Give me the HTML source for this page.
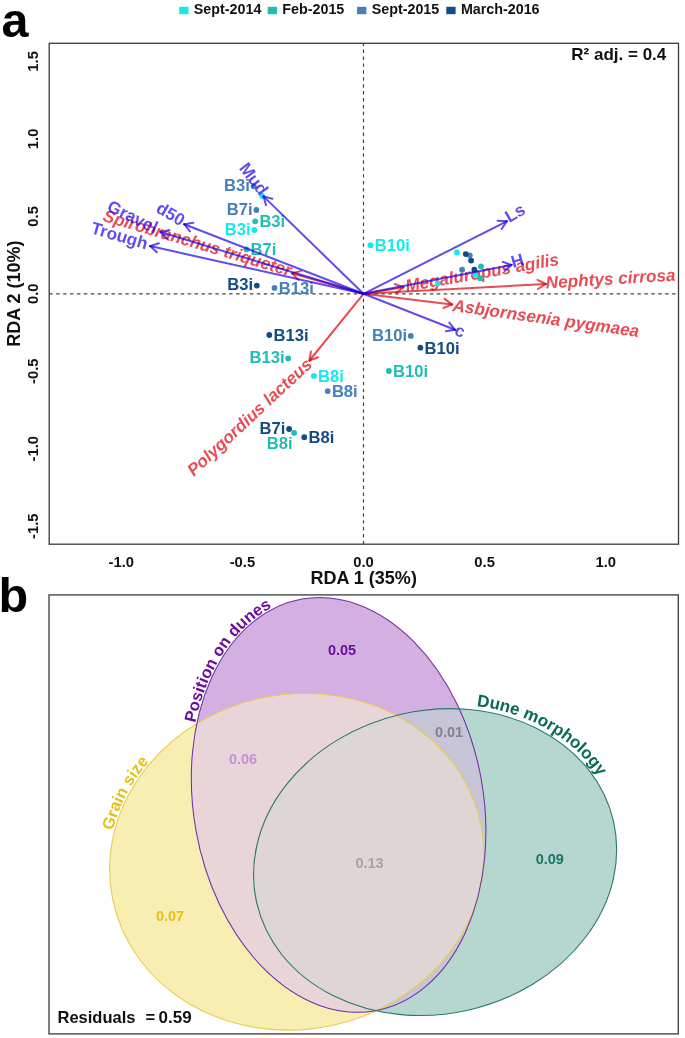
<!DOCTYPE html>
<html><head><meta charset="utf-8"><style>
html,body{margin:0;padding:0;background:#fff;}
svg{display:block;font-family:"Liberation Sans", sans-serif;will-change:transform;}
</style></head><body>
<svg width="685" height="1038" viewBox="0 0 685 1038">
<rect width="685" height="1038" fill="#fff"/>
<rect x="179.2" y="6.8" width="9.3" height="7.4" fill="#14eaec"/>
<text x="193.79999999999998" y="14" font-size="14.3" font-weight="bold" fill="#111">Sept-2014</text>
<rect x="267.7" y="6.8" width="9.3" height="7.4" fill="#20bdb5"/>
<text x="282.3" y="14" font-size="14.3" font-weight="bold" fill="#111">Feb-2015</text>
<rect x="357.1" y="6.8" width="9.3" height="7.4" fill="#4580b8"/>
<text x="371.70000000000005" y="14" font-size="14.3" font-weight="bold" fill="#111">Sept-2015</text>
<rect x="446.3" y="6.8" width="9.3" height="7.4" fill="#164a85"/>
<text x="460.90000000000003" y="14" font-size="14.3" font-weight="bold" fill="#111">March-2016</text>
<text x="1.5" y="37.2" font-size="48.5" font-weight="bold" fill="#000">a</text>
<text x="-1.4" y="611.5" font-size="48.5" font-weight="bold" fill="#000">b</text>
<rect x="49.2" y="43.3" width="629.3" height="500.9" fill="none" stroke="#3a3a3a" stroke-width="1.3"/>
<text x="121.3" y="567.3" font-size="14.8" font-weight="bold" text-anchor="middle" fill="#111">-1.0</text>
<text x="242.4" y="567.3" font-size="14.8" font-weight="bold" text-anchor="middle" fill="#111">-0.5</text>
<text x="363.5" y="567.3" font-size="14.8" font-weight="bold" text-anchor="middle" fill="#111">0.0</text>
<text x="484.6" y="567.3" font-size="14.8" font-weight="bold" text-anchor="middle" fill="#111">0.5</text>
<text x="605.7" y="567.3" font-size="14.8" font-weight="bold" text-anchor="middle" fill="#111">1.0</text>
<text transform="translate(37.6,526.2) rotate(-90)" font-size="14.8" font-weight="bold" text-anchor="middle" fill="#111">-1.5</text>
<text transform="translate(37.6,448.7) rotate(-90)" font-size="14.8" font-weight="bold" text-anchor="middle" fill="#111">-1.0</text>
<text transform="translate(37.6,371.2) rotate(-90)" font-size="14.8" font-weight="bold" text-anchor="middle" fill="#111">-0.5</text>
<text transform="translate(37.6,293.8) rotate(-90)" font-size="14.8" font-weight="bold" text-anchor="middle" fill="#111">0.0</text>
<text transform="translate(37.6,216.4) rotate(-90)" font-size="14.8" font-weight="bold" text-anchor="middle" fill="#111">0.5</text>
<text transform="translate(37.6,138.9) rotate(-90)" font-size="14.8" font-weight="bold" text-anchor="middle" fill="#111">1.0</text>
<text transform="translate(37.6,61.4) rotate(-90)" font-size="14.8" font-weight="bold" text-anchor="middle" fill="#111">1.5</text>
<text x="363.7" y="584" font-size="18" font-weight="bold" text-anchor="middle" fill="#111">RDA 1 (35%)</text>
<text transform="translate(19.6,293.7) rotate(-90)" font-size="18" font-weight="bold" text-anchor="middle" fill="#111">RDA 2 (10%)</text>
<text x="666.3" y="59.6" font-size="17" font-weight="bold" text-anchor="end" fill="#111">R² adj. = 0.4</text>
<line x1="363.5" y1="43.3" x2="363.5" y2="544.2" stroke="#444" stroke-width="1.2" stroke-dasharray="3.46 3.46" stroke-dashoffset="0.65"/>
<line x1="49.2" y1="293.8" x2="678.5" y2="293.8" stroke="#444" stroke-width="1.2" stroke-dasharray="3.46 3.46" stroke-dashoffset="-0.05"/>
<path d="M363.5,293.8L292.0,273.3" fill="none" stroke="#de0008" stroke-opacity="0.7" stroke-width="2.0" stroke-linecap="round"/>
<path d="M298.4,279.9L292.0,273.3" fill="none" stroke="#de0008" stroke-opacity="0.7" stroke-width="2.0" stroke-linecap="round"/>
<path d="M300.9,271.1L292.0,273.3" fill="none" stroke="#de0008" stroke-opacity="0.7" stroke-width="2.0" stroke-linecap="round"/>
<path d="M363.5,293.8L403.4,287.3" fill="none" stroke="#de0008" stroke-opacity="0.7" stroke-width="2.0" stroke-linecap="round"/>
<path d="M394.8,284.0L403.4,287.3" fill="none" stroke="#de0008" stroke-opacity="0.7" stroke-width="2.0" stroke-linecap="round"/>
<path d="M396.3,293.1L403.4,287.3" fill="none" stroke="#de0008" stroke-opacity="0.7" stroke-width="2.0" stroke-linecap="round"/>
<path d="M363.5,293.8L545.7,284.0" fill="none" stroke="#de0008" stroke-opacity="0.7" stroke-width="2.0" stroke-linecap="round"/>
<path d="M537.5,279.8L545.7,284.0" fill="none" stroke="#de0008" stroke-opacity="0.7" stroke-width="2.0" stroke-linecap="round"/>
<path d="M538.0,289.0L545.7,284.0" fill="none" stroke="#de0008" stroke-opacity="0.7" stroke-width="2.0" stroke-linecap="round"/>
<path d="M363.5,293.8L452.0,304.4" fill="none" stroke="#de0008" stroke-opacity="0.7" stroke-width="2.0" stroke-linecap="round"/>
<path d="M444.6,298.9L452.0,304.4" fill="none" stroke="#de0008" stroke-opacity="0.7" stroke-width="2.0" stroke-linecap="round"/>
<path d="M443.5,308.0L452.0,304.4" fill="none" stroke="#de0008" stroke-opacity="0.7" stroke-width="2.0" stroke-linecap="round"/>
<path d="M363.5,293.8L309.5,360.5" fill="none" stroke="#de0008" stroke-opacity="0.7" stroke-width="2.0" stroke-linecap="round"/>
<path d="M318.1,357.2L309.5,360.5" fill="none" stroke="#de0008" stroke-opacity="0.7" stroke-width="2.0" stroke-linecap="round"/>
<path d="M310.9,351.4L309.5,360.5" fill="none" stroke="#de0008" stroke-opacity="0.7" stroke-width="2.0" stroke-linecap="round"/>
<text transform="translate(197.5,242.8) rotate(16.5)" font-size="17.2" font-weight="bold" font-style="italic" text-anchor="middle" dy="0.35em" fill="#de0008" fill-opacity="0.7">Spirobranchus triqueter</text>
<text transform="translate(482.0,272.3) rotate(-10)" font-size="17.2" font-weight="bold" font-style="italic" text-anchor="middle" dy="0.35em" fill="#de0008" fill-opacity="0.7">Megaluropus agilis</text>
<text transform="translate(610.5,278.5) rotate(-3.5)" font-size="17.2" font-weight="bold" font-style="italic" text-anchor="middle" dy="0.35em" fill="#de0008" fill-opacity="0.7">Nephtys cirrosa</text>
<text transform="translate(546.0,318.0) rotate(8)" font-size="17.2" font-weight="bold" font-style="italic" text-anchor="middle" dy="0.35em" fill="#de0008" fill-opacity="0.7">Asbjornsenia pygmaea</text>
<text transform="translate(249.3,417.0) rotate(-43)" font-size="17.2" font-weight="bold" font-style="italic" text-anchor="middle" dy="0.35em" fill="#de0008" fill-opacity="0.7">Polygordius lacteus</text>
<circle cx="370.5" cy="245.2" r="2.9" fill="#14eaec"/>
<circle cx="254.3" cy="230.0" r="2.9" fill="#14eaec"/>
<circle cx="313.9" cy="375.9" r="2.9" fill="#14eaec"/>
<circle cx="262.1" cy="196.0" r="2.9" fill="#14eaec"/>
<circle cx="456.9" cy="252.5" r="2.9" fill="#14eaec"/>
<circle cx="475.4" cy="274.5" r="2.9" fill="#14eaec"/>
<circle cx="437.7" cy="283.4" r="2.9" fill="#14eaec"/>
<circle cx="255.2" cy="221.3" r="2.9" fill="#20bdb5"/>
<circle cx="246.4" cy="249.4" r="2.9" fill="#20bdb5"/>
<circle cx="288.2" cy="358.4" r="2.9" fill="#20bdb5"/>
<circle cx="294.1" cy="432.8" r="2.9" fill="#20bdb5"/>
<circle cx="388.9" cy="371.0" r="2.9" fill="#20bdb5"/>
<circle cx="481.0" cy="266.5" r="2.9" fill="#20bdb5"/>
<circle cx="480.2" cy="278.2" r="2.9" fill="#20bdb5"/>
<circle cx="253.6" cy="186.3" r="2.9" fill="#4580b8"/>
<circle cx="256.4" cy="210.0" r="2.9" fill="#4580b8"/>
<circle cx="274.5" cy="287.9" r="2.9" fill="#4580b8"/>
<circle cx="327.7" cy="391.1" r="2.9" fill="#4580b8"/>
<circle cx="410.8" cy="335.9" r="2.9" fill="#4580b8"/>
<circle cx="462.1" cy="269.7" r="2.9" fill="#4580b8"/>
<circle cx="469.8" cy="255.3" r="2.9" fill="#4580b8"/>
<circle cx="256.8" cy="285.6" r="2.9" fill="#164a85"/>
<circle cx="269.3" cy="335.0" r="2.9" fill="#164a85"/>
<circle cx="289.1" cy="429.0" r="2.9" fill="#164a85"/>
<circle cx="304.3" cy="437.2" r="2.9" fill="#164a85"/>
<circle cx="420.4" cy="347.7" r="2.9" fill="#164a85"/>
<circle cx="465.8" cy="254.1" r="2.9" fill="#164a85"/>
<circle cx="471.1" cy="260.6" r="2.9" fill="#164a85"/>
<circle cx="474.3" cy="269.7" r="2.9" fill="#164a85"/>
<text x="374.7" y="251.2" font-size="16.6" font-weight="bold" fill="#14eaec">B10i</text>
<text x="250.6" y="234.8" font-size="16.6" font-weight="bold" text-anchor="end" fill="#14eaec">B3i</text>
<text x="318.1" y="381.9" font-size="16.6" font-weight="bold" fill="#14eaec">B8i</text>
<text x="259.4" y="227.3" font-size="16.6" font-weight="bold" fill="#20bdb5">B3i</text>
<text x="250.6" y="255.4" font-size="16.6" font-weight="bold" fill="#20bdb5">B7i</text>
<text x="284.5" y="363.2" font-size="16.6" font-weight="bold" text-anchor="end" fill="#20bdb5">B13i</text>
<text x="292.6" y="448.8" font-size="16.6" font-weight="bold" text-anchor="end" fill="#20bdb5">B8i</text>
<text x="393.1" y="377.0" font-size="16.6" font-weight="bold" fill="#20bdb5">B10i</text>
<text x="249.9" y="191.1" font-size="16.6" font-weight="bold" text-anchor="end" fill="#4580b8">B3i</text>
<text x="252.7" y="214.8" font-size="16.6" font-weight="bold" text-anchor="end" fill="#4580b8">B7i</text>
<text x="278.7" y="293.9" font-size="16.6" font-weight="bold" fill="#4580b8">B13i</text>
<text x="331.9" y="397.1" font-size="16.6" font-weight="bold" fill="#4580b8">B8i</text>
<text x="407.1" y="340.7" font-size="16.6" font-weight="bold" text-anchor="end" fill="#4580b8">B10i</text>
<text x="253.1" y="290.4" font-size="16.6" font-weight="bold" text-anchor="end" fill="#164a85">B3i</text>
<text x="273.5" y="341.0" font-size="16.6" font-weight="bold" fill="#164a85">B13i</text>
<text x="285.4" y="433.8" font-size="16.6" font-weight="bold" text-anchor="end" fill="#164a85">B7i</text>
<text x="308.5" y="443.2" font-size="16.6" font-weight="bold" fill="#164a85">B8i</text>
<text x="424.6" y="353.7" font-size="16.6" font-weight="bold" fill="#164a85">B10i</text>
<path d="M363.5,293.8L263.5,196.4" fill="none" stroke="#1a00e8" stroke-opacity="0.7" stroke-width="2.0" stroke-linecap="round"/>
<path d="M266.0,205.3L263.5,196.4" fill="none" stroke="#1a00e8" stroke-opacity="0.7" stroke-width="2.0" stroke-linecap="round"/>
<path d="M272.4,198.7L263.5,196.4" fill="none" stroke="#1a00e8" stroke-opacity="0.7" stroke-width="2.0" stroke-linecap="round"/>
<path d="M363.5,293.8L184.2,224.2" fill="none" stroke="#1a00e8" stroke-opacity="0.7" stroke-width="2.0" stroke-linecap="round"/>
<path d="M190.0,231.4L184.2,224.2" fill="none" stroke="#1a00e8" stroke-opacity="0.7" stroke-width="2.0" stroke-linecap="round"/>
<path d="M193.3,222.8L184.2,224.2" fill="none" stroke="#1a00e8" stroke-opacity="0.7" stroke-width="2.0" stroke-linecap="round"/>
<path d="M363.5,293.8L160.6,232.0" fill="none" stroke="#1a00e8" stroke-opacity="0.7" stroke-width="2.0" stroke-linecap="round"/>
<path d="M166.9,238.7L160.6,232.0" fill="none" stroke="#1a00e8" stroke-opacity="0.7" stroke-width="2.0" stroke-linecap="round"/>
<path d="M169.6,229.9L160.6,232.0" fill="none" stroke="#1a00e8" stroke-opacity="0.7" stroke-width="2.0" stroke-linecap="round"/>
<path d="M363.5,293.8L150.1,246.1" fill="none" stroke="#1a00e8" stroke-opacity="0.7" stroke-width="2.0" stroke-linecap="round"/>
<path d="M156.9,252.3L150.1,246.1" fill="none" stroke="#1a00e8" stroke-opacity="0.7" stroke-width="2.0" stroke-linecap="round"/>
<path d="M158.9,243.3L150.1,246.1" fill="none" stroke="#1a00e8" stroke-opacity="0.7" stroke-width="2.0" stroke-linecap="round"/>
<path d="M363.5,293.8L506.7,221.3" fill="none" stroke="#1a00e8" stroke-opacity="0.7" stroke-width="2.0" stroke-linecap="round"/>
<path d="M497.5,220.8L506.7,221.3" fill="none" stroke="#1a00e8" stroke-opacity="0.7" stroke-width="2.0" stroke-linecap="round"/>
<path d="M501.7,229.0L506.7,221.3" fill="none" stroke="#1a00e8" stroke-opacity="0.7" stroke-width="2.0" stroke-linecap="round"/>
<path d="M363.5,293.8L511.5,264.9" fill="none" stroke="#1a00e8" stroke-opacity="0.7" stroke-width="2.0" stroke-linecap="round"/>
<path d="M502.8,261.9L511.5,264.9" fill="none" stroke="#1a00e8" stroke-opacity="0.7" stroke-width="2.0" stroke-linecap="round"/>
<path d="M504.6,270.9L511.5,264.9" fill="none" stroke="#1a00e8" stroke-opacity="0.7" stroke-width="2.0" stroke-linecap="round"/>
<path d="M363.5,293.8L455.0,329.8" fill="none" stroke="#1a00e8" stroke-opacity="0.7" stroke-width="2.0" stroke-linecap="round"/>
<path d="M449.3,322.6L455.0,329.8" fill="none" stroke="#1a00e8" stroke-opacity="0.7" stroke-width="2.0" stroke-linecap="round"/>
<path d="M445.9,331.2L455.0,329.8" fill="none" stroke="#1a00e8" stroke-opacity="0.7" stroke-width="2.0" stroke-linecap="round"/>
<text transform="translate(253.9,178.6) rotate(53)" font-size="17.2" font-weight="bold" text-anchor="middle" dy="0.35em" fill="#1a00e8" fill-opacity="0.7">Mud</text>
<text transform="translate(170.8,213.8) rotate(30)" font-size="17.2" font-weight="bold" text-anchor="middle" dy="0.35em" fill="#1a00e8" fill-opacity="0.7">d50</text>
<text transform="translate(132.8,216.6) rotate(26)" font-size="17.2" font-weight="bold" text-anchor="middle" dy="0.35em" fill="#1a00e8" fill-opacity="0.7">Gravel</text>
<text transform="translate(119.5,235.5) rotate(16.5)" font-size="17.2" font-weight="bold" text-anchor="middle" dy="0.35em" fill="#1a00e8" fill-opacity="0.7">Trough</text>
<text transform="translate(514.8,212.8) rotate(-30)" font-size="17.2" font-weight="bold" text-anchor="middle" dy="0.35em" fill="#1a00e8" fill-opacity="0.7">Ls</text>
<text transform="translate(517.3,260.6) rotate(-16)" font-size="17.2" font-weight="bold" text-anchor="middle" dy="0.35em" fill="#1a00e8" fill-opacity="0.7">H</text>
<text transform="translate(460.0,330.7) rotate(20)" font-size="17.2" font-weight="bold" text-anchor="middle" dy="0.35em" fill="#1a00e8" fill-opacity="0.7">c</text>
<rect x="49.0" y="594.9" width="629.3" height="439.0" fill="none" stroke="#3a3a3a" stroke-width="1.3"/>
<defs>
<clipPath id="cY"><ellipse cx="296.8" cy="861.8" rx="187.9" ry="167.5" transform="rotate(-11.4 296.8 861.8)"/></clipPath>
<clipPath id="cP"><ellipse cx="338.6" cy="804.9" rx="144.9" ry="209.1" transform="rotate(-10.1 338.6 804.9)"/></clipPath>
<clipPath id="cT"><ellipse cx="435.1" cy="862.1" rx="183.0" ry="151.7" transform="rotate(-12.9 435.1 862.1)"/></clipPath>
<clipPath id="cYP" clip-path="url(#cP)"><ellipse cx="296.8" cy="861.8" rx="187.9" ry="167.5" transform="rotate(-11.4 296.8 861.8)"/></clipPath>
</defs>
<ellipse cx="296.8" cy="861.8" rx="187.9" ry="167.5" transform="rotate(-11.4 296.8 861.8)" fill="#f8eeb2"/>
<ellipse cx="338.6" cy="804.9" rx="144.9" ry="209.1" transform="rotate(-10.1 338.6 804.9)" fill="#d4b0e2"/>
<ellipse cx="435.1" cy="862.1" rx="183.0" ry="151.7" transform="rotate(-12.9 435.1 862.1)" fill="#b5d7d0"/>
<g clip-path="url(#cY)"><ellipse cx="338.6" cy="804.9" rx="144.9" ry="209.1" transform="rotate(-10.1 338.6 804.9)" fill="#e9d5d7"/></g>
<g clip-path="url(#cY)"><ellipse cx="435.1" cy="862.1" rx="183.0" ry="151.7" transform="rotate(-12.9 435.1 862.1)" fill="#d6e2c2"/></g>
<g clip-path="url(#cP)"><ellipse cx="435.1" cy="862.1" rx="183.0" ry="151.7" transform="rotate(-12.9 435.1 862.1)" fill="#c8c4d7"/></g>
<g clip-path="url(#cYP)"><ellipse cx="435.1" cy="862.1" rx="183.0" ry="151.7" transform="rotate(-12.9 435.1 862.1)" fill="#ded6d4"/></g>
<ellipse cx="296.8" cy="861.8" rx="187.9" ry="167.5" transform="rotate(-11.4 296.8 861.8)" fill="none" stroke="#e6cc52" stroke-width="1.1"/>
<ellipse cx="338.6" cy="804.9" rx="144.9" ry="209.1" transform="rotate(-10.1 338.6 804.9)" fill="none" stroke="#7030a4" stroke-width="1.05"/>
<ellipse cx="435.1" cy="862.1" rx="183.0" ry="151.7" transform="rotate(-12.9 435.1 862.1)" fill="none" stroke="#2a7a6a" stroke-width="1.1"/>
<text x="342" y="655" font-size="14.5" font-weight="bold" text-anchor="middle" fill="#6a1098">0.05</text>
<text x="243" y="764" font-size="14.5" font-weight="bold" text-anchor="middle" fill="#c490d8">0.06</text>
<text x="449" y="736.6" font-size="14.5" font-weight="bold" text-anchor="middle" fill="#86808a">0.01</text>
<text x="369.5" y="868.4" font-size="14.5" font-weight="bold" text-anchor="middle" fill="#a8a2a2">0.13</text>
<text x="549.8" y="864.4" font-size="14.5" font-weight="bold" text-anchor="middle" fill="#1a7462">0.09</text>
<text x="170" y="921.4" font-size="14.5" font-weight="bold" text-anchor="middle" fill="#e2c21a">0.07</text>
<text x="57.5" y="1023" font-size="16.5" font-weight="bold" fill="#111">Residuals</text>
<text x="145.5" y="1023" font-size="16.5" font-weight="bold" fill="#111">=</text>
<text x="158.5" y="1023" font-size="17" font-weight="bold" fill="#111">0.59</text>
<defs>
<path id="pp" d="M202.98,866.22 L202.34,864.13 L201.72,862.02 L201.11,859.91 L200.52,857.80 L199.95,855.68 L199.39,853.55 L198.84,851.42 L198.31,849.29 L197.80,847.14 L197.30,845.00 L196.82,842.85 L196.35,840.69 L195.90,838.54 L195.46,836.37 L195.04,834.21 L194.63,832.04 L194.24,829.87 L193.87,827.69 L193.51,825.52 L193.17,823.34 L192.84,821.15 L192.53,818.97 L192.24,816.79 L191.96,814.60 L191.70,812.41 L191.45,810.23 L191.22,808.04 L191.01,805.85 L190.81,803.66 L190.63,801.47 L190.47,799.28 L190.32,797.10 L190.19,794.91 L190.07,792.72 L189.97,790.54 L189.89,788.36 L189.82,786.17 L189.77,784.00 L189.73,781.82 L189.72,779.65 L189.71,777.47 L189.73,775.31 L189.76,773.14 L189.81,770.98 L189.87,768.82 L189.95,766.67 L190.05,764.52 L190.16,762.37 L190.29,760.23 L190.43,758.09 L190.59,755.96 L190.77,753.84 L190.96,751.72 L191.17,749.61 L191.40,747.50 L191.64,745.40 L191.90,743.30 L192.17,741.21 L192.46,739.13 L192.77,737.06 L193.09,734.99 L193.43,732.93 L193.78,730.88 L194.15,728.84 L194.54,726.80 L194.94,724.78 L195.36,722.76 L195.79,720.75 L196.24,718.75 L196.71,716.76 L197.19,714.78 L197.68,712.81 L198.19,710.85 L198.72,708.90 L199.26,706.97 L199.82,705.04 L200.39,703.12 L200.98,701.21 L201.58,699.32 L202.20,697.44 L202.83,695.56 L203.48,693.70 L204.14,691.86 L204.82,690.02 L205.51,688.20 L206.21,686.39 L206.93,684.59 L207.67,682.81 L208.42,681.04 L209.18,679.28 L209.96,677.54 L210.75,675.81 L211.56,674.10 L212.38,672.40 L213.21,670.71 L214.06,669.04 L214.92,667.39 L215.80,665.75 L216.68,664.12 L217.59,662.51 L218.50,660.92 L219.43,659.34 L220.37,657.77 L221.32,656.23 L222.29,654.70 L223.27,653.18 L224.26,651.69 L225.27,650.20 L226.29,648.74 L227.32,647.30 L228.36,645.87 L229.41,644.45 L230.48,643.06 L231.55,641.68 L232.64,640.33 L233.75,638.99 L234.86,637.66 L235.98,636.36 L237.12,635.07 L238.26,633.81 L239.42,632.56 L240.59,631.33 L241.77,630.12 L242.96,628.93 L244.16,627.76 L245.37,626.61 L246.59,625.47 L247.82,624.36 L249.06,623.27 L250.31,622.19 L251.57,621.14 L252.84,620.11 L254.12,619.10 L255.41,618.10 L256.71,617.13 L258.01,616.18 L259.33,615.25 L260.65,614.34 L261.99,613.45 L263.33,612.58 L264.68,611.74 L266.03,610.91 L267.40,610.11 L268.77,609.32 L270.15,608.56 L271.54,607.82 L272.94,607.10 L274.34,606.41 L275.75,605.73 L277.17,605.08 L278.59,604.45 L280.02,603.84 L281.46,603.25 L282.90,602.69 L284.35,602.14 L285.80,601.62 L287.26,601.12 L288.73,600.65 L290.20,600.19 L291.68,599.76 L293.16,599.35 L294.65,598.97 L296.14,598.60 L297.64,598.26 L299.14,597.95 L300.64,597.65 L302.15,597.38 L303.67,597.13 L305.19,596.90 L306.71,596.69 L308.23,596.51 L309.76,596.35 L311.29,596.22 L312.82,596.11 L314.36,596.02 L315.90,595.95 L317.44,595.90 L318.99,595.88 L320.53,595.88 L322.08,595.91 L323.63,595.96 L325.19,596.03 L326.74,596.12 L328.29,596.24 L329.85,596.37 L331.41,596.54 L332.96,596.72 L334.52,596.93 L336.08,597.16 L337.64,597.41 L339.20,597.69 L340.76,597.99 L342.32,598.31 L343.88,598.65 L345.43,599.02 L346.99,599.41 L348.55,599.82 L350.10,600.25 L351.66,600.71 L353.21,601.19"/>
<path id="py" d="M114.27,913.67 L113.85,912.26 L113.44,910.83 L113.04,909.41 L112.66,907.98 L112.29,906.55 L111.93,905.11 L111.59,903.67 L111.26,902.23 L110.95,900.78 L110.65,899.34 L110.36,897.88 L110.09,896.43 L109.83,894.97 L109.59,893.51 L109.36,892.05 L109.15,890.59 L108.95,889.12 L108.76,887.65 L108.59,886.18 L108.43,884.71 L108.29,883.24 L108.16,881.76 L108.05,880.28 L107.95,878.81 L107.87,877.33 L107.80,875.85 L107.74,874.36 L107.70,872.88 L107.67,871.40 L107.66,869.91 L107.66,868.43 L107.67,866.94 L107.70,865.46 L107.75,863.97 L107.81,862.48 L107.88,861.00 L107.97,859.51 L108.07,858.02 L108.19,856.54 L108.32,855.05 L108.46,853.57 L108.62,852.08 L108.80,850.60 L108.99,849.12 L109.19,847.63 L109.40,846.15 L109.64,844.67 L109.88,843.20 L110.14,841.72 L110.41,840.24 L110.70,838.77 L111.00,837.30 L111.32,835.83 L111.65,834.36 L112.00,832.89 L112.35,831.43 L112.73,829.97 L113.11,828.51 L113.51,827.05 L113.93,825.60 L114.36,824.15 L114.80,822.70 L115.26,821.25 L115.73,819.81 L116.21,818.37 L116.71,816.94 L117.22,815.50 L117.74,814.07 L118.28,812.65 L118.83,811.23 L119.40,809.81 L119.98,808.40 L120.57,806.99 L121.18,805.58 L121.80,804.18 L122.43,802.78 L123.08,801.39 L123.74,800.00 L124.41,798.62 L125.10,797.24 L125.79,795.87 L126.51,794.50 L127.23,793.14 L127.97,791.78 L128.72,790.43 L129.48,789.08 L130.26,787.74 L131.05,786.40 L131.85,785.07 L132.66,783.75 L133.49,782.43 L134.33,781.12 L135.18,779.81 L136.04,778.51 L136.92,777.22 L137.81,775.93 L138.71,774.65 L139.62,773.38 L140.54,772.11 L141.48,770.85 L142.43,769.60 L143.39,768.35 L144.36,767.11 L145.34,765.88 L146.34,764.66 L147.34,763.44 L148.36,762.23 L149.39,761.03 L150.43,759.83 L151.48,758.64 L152.54,757.47 L153.61,756.29 L154.70,755.13 L155.79,753.98 L156.90,752.83 L158.01,751.69 L159.14,750.56 L160.28,749.44 L161.42,748.33 L162.58,747.22 L163.75,746.13 L164.93,745.04 L166.12,743.96 L167.32,742.89 L168.52,741.83 L169.74,740.78 L170.97,739.74 L172.21,738.71 L173.45,737.69 L174.71,736.67 L175.97,735.67 L177.25,734.67 L178.53,733.69 L179.82,732.71 L181.13,731.75 L182.44,730.79 L183.76,729.85 L185.08,728.91 L186.42,727.99 L187.76,727.07 L189.12,726.17 L190.48,725.28 L191.85,724.39 L193.22,723.52 L194.61,722.66 L196.00,721.80 L197.40,720.96 L198.81,720.13 L200.23,719.31 L201.65,718.50 L203.08,717.70 L204.52,716.92 L205.96,716.14 L207.41,715.38 L208.87,714.62 L210.33,713.88 L211.81,713.15 L213.28,712.43 L214.77,711.72 L216.26,711.02 L217.76,710.33 L219.26,709.66 L220.77,709.00 L222.28,708.35 L223.80,707.71 L225.33,707.08 L226.86,706.46 L228.39,705.86 L229.93,705.27 L231.48,704.69 L233.03,704.12 L234.59,703.56 L236.15,703.02 L237.72,702.48 L239.29,701.96 L240.86,701.46 L242.44,700.96 L244.02,700.48 L245.61,700.01 L247.20,699.55 L248.79,699.10 L250.39,698.67 L252.00,698.25 L253.60,697.84 L255.21,697.44 L256.82,697.06 L258.44,696.68 L260.05,696.32 L261.67,695.98 L263.30,695.64 L264.92,695.32 L266.55,695.01 L268.18,694.72 L269.81,694.44 L271.45,694.16 L273.09,693.91 L274.72,693.66 L276.36,693.43 L278.01,693.21 L279.65,693.00"/>
<path id="pt" d="M313.65,751.32 L315.26,750.05 L316.88,748.80 L318.51,747.56 L320.16,746.34 L321.82,745.13 L323.50,743.94 L325.20,742.76 L326.90,741.60 L328.63,740.45 L330.36,739.32 L332.11,738.21 L333.87,737.11 L335.65,736.03 L337.43,734.96 L339.23,733.91 L341.05,732.87 L342.87,731.86 L344.71,730.86 L346.56,729.87 L348.42,728.91 L350.29,727.96 L352.17,727.03 L354.06,726.11 L355.96,725.21 L357.88,724.33 L359.80,723.47 L361.73,722.63 L363.67,721.80 L365.62,720.99 L367.58,720.20 L369.55,719.43 L371.53,718.68 L373.52,717.94 L375.51,717.23 L377.51,716.53 L379.52,715.85 L381.54,715.19 L383.56,714.55 L385.59,713.93 L387.62,713.32 L389.66,712.74 L391.71,712.18 L393.76,711.63 L395.82,711.10 L397.89,710.60 L399.95,710.11 L402.03,709.64 L404.10,709.19 L406.19,708.77 L408.27,708.36 L410.36,707.97 L412.45,707.60 L414.54,707.25 L416.64,706.92 L418.74,706.61 L420.84,706.32 L422.94,706.05 L425.05,705.81 L427.16,705.58 L429.26,705.37 L431.37,705.18 L433.48,705.01 L435.59,704.86 L437.70,704.74 L439.80,704.63 L441.91,704.54 L444.02,704.47 L446.12,704.43 L448.23,704.40 L450.33,704.39 L452.43,704.41 L454.53,704.44 L456.62,704.50 L458.72,704.57 L460.81,704.67 L462.89,704.78 L464.98,704.92 L467.06,705.07 L469.13,705.25 L471.20,705.45 L473.27,705.66 L475.33,705.90 L477.39,706.16 L479.44,706.43 L481.48,706.73 L483.52,707.05 L485.55,707.38 L487.58,707.74 L489.60,708.12 L491.61,708.51 L493.61,708.93 L495.61,709.36 L497.60,709.82 L499.58,710.29 L501.56,710.79 L503.52,711.30 L505.48,711.84 L507.43,712.39 L509.36,712.96 L511.29,713.55 L513.21,714.16 L515.12,714.79 L517.02,715.44 L518.90,716.11 L520.78,716.80 L522.65,717.50 L524.50,718.22 L526.34,718.97 L528.17,719.73 L529.99,720.50 L531.80,721.30 L533.59,722.12 L535.38,722.95 L537.14,723.80 L538.90,724.67 L540.64,725.56 L542.37,726.46 L544.09,727.38 L545.79,728.32 L547.47,729.28 L549.15,730.25 L550.80,731.24 L552.45,732.25 L554.07,733.27 L555.69,734.31 L557.28,735.37 L558.86,736.44 L560.43,737.53 L561.98,738.63 L563.51,739.75 L565.03,740.89 L566.53,742.04 L568.01,743.21 L569.47,744.39 L570.92,745.59 L572.35,746.81 L573.77,748.03 L575.16,749.28 L576.54,750.53 L577.90,751.81 L579.24,753.09 L580.56,754.39 L581.86,755.71 L583.15,757.03 L584.41,758.37 L585.66,759.73 L586.89,761.10 L588.09,762.48 L589.28,763.87 L590.45,765.28 L591.60,766.69 L592.72,768.13 L593.83,769.57 L594.92,771.02 L595.98,772.49 L597.03,773.97 L598.05,775.46 L599.06,776.96 L600.04,778.47 L601.00,779.99 L601.94,781.52 L602.86,783.07 L603.76,784.62 L604.63,786.18 L605.48,787.76 L606.32,789.34 L607.13,790.93 L607.91,792.53 L608.68,794.14 L609.42,795.76 L610.14,797.39 L610.84,799.02 L611.51,800.67 L612.17,802.32 L612.80,803.98 L613.40,805.65 L613.99,807.32 L614.55,809.00 L615.09,810.69 L615.60,812.38 L616.09,814.09 L616.56,815.79 L617.00,817.51 L617.43,819.22 L617.82,820.95 L618.20,822.68 L618.55,824.41 L618.88,826.15 L619.18,827.90 L619.46,829.65 L619.71,831.40 L619.95,833.16 L620.16,834.92 L620.34,836.68 L620.50,838.45 L620.64,840.22 L620.75,841.99 L620.84,843.77 L620.91,845.55 L620.95,847.33"/>
</defs>
<text font-size="16.5" font-weight="bold" fill="#6a1098"><textPath href="#pp" startOffset="145">Position on dunes</textPath></text>
<text font-size="16.5" font-weight="bold" fill="#e2c21a"><textPath href="#py" startOffset="84">Grain size</textPath></text>
<text font-size="17" font-weight="bold" fill="#0a6c57"><textPath href="#pt" startOffset="173.5">Dune morphology</textPath></text>
</svg>
</body></html>
